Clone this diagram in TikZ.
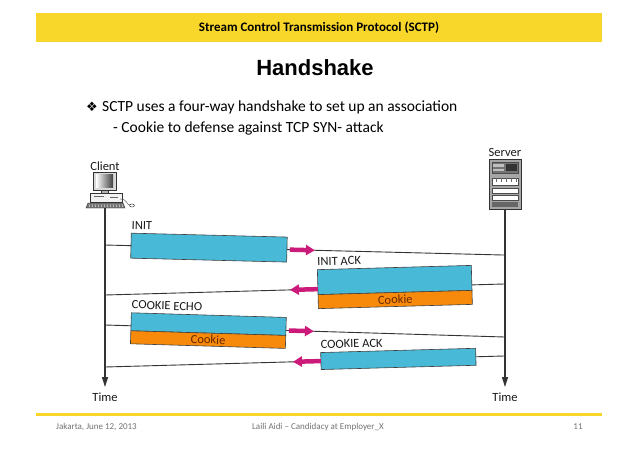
\documentclass[tikz,border=0pt]{standalone}
\usepackage{fontspec}
\setmainfont{Carlito}
\newfontfamily\headfont{Liberation Sans}
\newfontfamily\symbolfont{DejaVu Sans}
\usetikzlibrary{arrows.meta,positioning}
\definecolor{slideyellow}{HTML}{F9D72A}
\definecolor{msgcyan}{HTML}{48B9D6}
\definecolor{msgorange}{HTML}{F7890B}
\definecolor{arrowpink}{HTML}{CC1A7A}
\definecolor{cookiebrown}{HTML}{6A2A00}

\begin{document}
\begin{tikzpicture}[x=1pt,y=-1pt,
  wire/.style={draw=black!80, line width=0.9pt},
  axis/.style={draw=black!80, line width=1.1pt, -{Triangle[length=10pt,width=6pt]}},
  pinkarr/.style={draw=arrowpink, line width=4.5pt, -{Triangle[length=9pt,width=10pt]}},
  msgbox/.style={draw=black!75, line width=0.6pt, fill=msgcyan, inner sep=0pt, outer sep=0pt},
  cookiebox/.style={draw=black!75, line width=0.6pt, fill=msgorange, inner sep=0pt, outer sep=0pt, text=cookiebrown, font=\fontsize{12.5}{12.5}\selectfont},
  msglabel/.style={anchor=base west, inner sep=0pt, yshift=4pt, font=\fontsize{12.5}{12.5}\selectfont, text=black!90},
  hostlabel/.style={inner sep=0pt, font=\fontsize{12.5}{12.5}\selectfont, text=black!90},
  foot/.style={inner sep=0pt, text=black!55, font=\fontsize{9}{9}\selectfont}]

\useasboundingbox[fill=white] (0,0) rectangle (638,451);

% slide header
\node[fill=slideyellow, minimum width=566pt, minimum height=29pt, inner sep=0pt, font=\bfseries\fontsize{13}{13}\selectfont] (head) at (319,27.5) {Stream Control Transmission Protocol (SCTP)};
\node[inner sep=0pt, font=\headfont\bfseries\fontsize{22}{22}\selectfont] (title) at (315,68) {Handshake};
\node[anchor=base west, inner sep=0pt, font=\symbolfont\fontsize{13}{13}\selectfont] (bul) at (86,111) {❖};
\node[anchor=base west, inner sep=0pt, font=\fontsize{15.5}{15.5}\selectfont] (pt1) at (102,111) {SCTP uses a four-way handshake to set up an association};
\node[anchor=base west, inner sep=0pt, font=\fontsize{15.5}{15.5}\selectfont] (pt2) at (113,132) {- Cookie to defense against TCP SYN- attack};

% client
\draw[black!80, fill=black!15] (93,172) rectangle (116,190);
\shade[left color=white, right color=black!75] (96,174) rectangle (113,187);
\draw[black!80, fill=black!30] (101,190) rectangle (108,193);
\draw[black!80, fill=black!5] (90,193) rectangle (122,202);
\draw[black!60] (94,196) -- (104,196) (110,197.5) -- (118,197.5);
\draw[black!80, fill=black!55] (88,203) -- (123,203) -- (125,208) -- (86,208) -- cycle;
\foreach \k in {89,92,...,122} \draw[white, line width=0.4pt] (\k,204) -- (\k+0.5,207);
\draw[black!70] (120,199) .. controls (128,199) and (126,205) .. (130,205);
\draw[black!80, fill=white] (132,205.5) ellipse (2.5 and 1.5);
\node[hostlabel] (client) at (105,166) {Client};
\coordinate (ctop) at (105,208);
\coordinate (cend) at (105,387);
\draw[axis] (ctop) -- (cend);
\node[hostlabel] (ctime) at (105,397) {Time};

% server
\draw[black!80, fill=black!35] (489,159) rectangle (521,209);
\draw[black!70, fill=black!55] (492,162) rectangle (518,173);
\fill[black!25] (493,164) rectangle (504,166.5);
\fill[black!25] (493,168.5) rectangle (504,171);
\fill[black!80] (506,164) rectangle (517,171);
\draw[black!70, fill=white] (492,178) rectangle (518,185);
\foreach \t in {496,501,...,516} \draw[black!60] (\t,178) -- (\t,181.5);
\draw[black!70, fill=white] (492,188) rectangle (518,193);
\draw[black!70, fill=white] (492,195) rectangle (518,200);
\fill[black!60] (492,202) rectangle (518,207);
\node[hostlabel] (server) at (505,152) {Server};
\coordinate (stop) at (505,209);
\coordinate (send) at (505,387);
\draw[axis] (stop) -- (send);
\node[hostlabel] (stime) at (505,397) {Time};

% INIT
\begin{scope}[shift={(105,245)}, rotate=-1.44, transform shape]
\coordinate (initc) at (0,0);
\coordinate (inits) at (399.1,0);
\node[msgbox, minimum width=156pt, minimum height=25pt] (init) at (104,0) {};
\node[msglabel] (initl) at (init.north west) {INIT};
\coordinate (initt) at (185,0);
\coordinate (initp) at (210,0);
\draw[wire] (initc) -- (init.west);
\draw[wire] (init.east) -- (inits);
\draw[pinkarr] (initt) -- (initp);
\end{scope}

% INIT ACK
\begin{scope}[shift={(105,295)}, rotate=1.58, transform shape]
\coordinate (iackc) at (0,0);
\coordinate (iacks) at (399.1,0);
\node[msgbox, minimum width=154pt, minimum height=25pt] (iack) at (290,-7) {};
\node[cookiebox, minimum width=154pt, minimum height=14pt, below=0pt of iack] (iackck) {Cookie};
\node[msglabel] (iackl) at (iack.north west) {INIT ACK};
\coordinate (iackL) at (213,0);
\coordinate (iackR) at (367,0);
\coordinate (iackp) at (185,0);
\draw[wire] (iacks) -- (iackR);
\draw[wire] (iackL) -- (iackc);
\draw[pinkarr] (iackL) -- (iackp);
\end{scope}

% COOKIE ECHO
\begin{scope}[shift={(105,325)}, rotate=-1.72, transform shape]
\coordinate (echoc) at (0,0);
\coordinate (echos) at (399.2,0);
\node[msgbox, minimum width=155pt, minimum height=18pt] (echo) at (103.5,-4) {};
\node[cookiebox, minimum width=155pt, minimum height=13pt, below=0pt of echo] (echock) {Cookie};
\node[msglabel] (echol) at (echo.north west) {COOKIE ECHO};
\coordinate (echoL) at (26,0);
\coordinate (echoR) at (181,0);
\coordinate (echot) at (184,0);
\coordinate (echop) at (209,0);
\draw[wire] (echoc) -- (echoL);
\draw[wire] (echoR) -- (echos);
\draw[pinkarr] (echot) -- (echop);
\end{scope}

% COOKIE ACK
\begin{scope}[shift={(105,367)}, rotate=1.58, transform shape]
\coordinate (cackc) at (0,0);
\coordinate (cacks) at (399.1,0);
\node[msgbox, minimum width=155pt, minimum height=17pt] (cack) at (293.5,0) {};
\node[msglabel] (cackl) at (cack.north west) {COOKIE ACK};
\coordinate (cackp) at (188,0);
\draw[wire] (cacks) -- (cack.east);
\draw[wire] (cack.west) -- (cackc);
\draw[pinkarr] (cack.west) -- (cackp);
\end{scope}

% footer
\draw[slideyellow, line width=3pt] (36,414) -- (602,414);
\node[foot, anchor=west] (date) at (56,427) {Jakarta, June 12, 2013};
\node[foot] (who) at (318,427) {Laili Aidi – Candidacy at Employer\_X};
\node[foot] (page) at (578,427) {11};
\end{tikzpicture}
\end{document}
